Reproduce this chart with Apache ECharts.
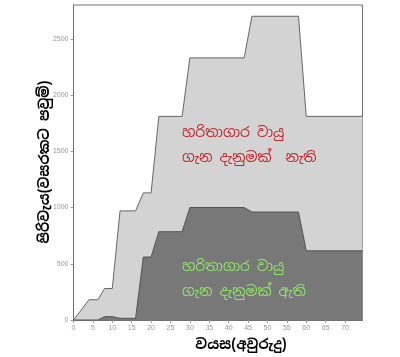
<!DOCTYPE html>
<html><head><meta charset="utf-8">
<script src="https://cdn.jsdelivr.net/npm/echarts@6/dist/echarts.min.js"></script>
<style>html,body{margin:0;padding:0;background:#fff}#c{width:400px;height:357px}</style>
</head><body><div id="c"></div>
<script>
const ages = [0,4,6.3,8,10,12,16,18,20,22,28,30,44,46,58,60,74.5];
const totalCost = [0,180,180,280,280,970,970,1130,1130,1810,1810,2330,2330,2700,2700,1810,1810];
const awareCost = [0,0,0,30,30,15,15,560,560,785,785,1000,1000,960,960,615,615];
const xTicks = [0,5,10,15,20,25,30,35,40,45,50,55,60,65,70];
const yTicks = [0,500,1000,1500,2000,2500];
const yTitle = 'පිරිවැය(වසරකට පවුම්)';
const xTitle = 'වයස(අවුරුදු)';
const notAwareLines = ['හරිතාගාර වායු','ගැන දැනුමක්  නැති'];
const awareLines = ['හරිතාගාර වායු','ගැන දැනුමක් ඇති'];

const FONT = "'Noto Sans Sinhala','Noto Serif Sinhala','Iskoola Pota',sans-serif";
const chart = echarts.init(document.getElementById('c'));
const pair = arr => ages.map((a,i)=>[a,arr[i]]);
const fmtX = v => xTicks.includes(v) ? String(v) : '';
const fmtY = v => yTicks.includes(v) ? String(v) : '';
chart.setOption({
  animation:false,
  grid:{left:73.5,right:37.5,top:5,bottom:37,show:true,borderColor:'#707070',borderWidth:1,backgroundColor:'transparent'},
  xAxis:{type:'value',min:0,max:74.5,interval:5,
    axisLine:{show:true,onZero:false,lineStyle:{color:'#707070'}},
    axisTick:{show:true,length:3,lineStyle:{color:'#999'}},
    axisLabel:{color:'#999',fontSize:7,margin:5,showMaxLabel:false,fontFamily:'Arial',formatter:fmtX},
    splitLine:{show:false}},
  yAxis:{type:'value',min:0,max:2800,interval:500,
    axisLine:{show:true,lineStyle:{color:'#707070'}},
    axisTick:{show:true,length:3,lineStyle:{color:'#999'}},
    axisLabel:{color:'#999',fontSize:7,margin:5,showMaxLabel:false,fontFamily:'Arial',formatter:fmtY},
    splitLine:{show:false}},
  series:[
    {type:'line',data:pair(totalCost),symbol:'none',lineStyle:{color:'#666',width:1},
     areaStyle:{color:'#d3d3d3',opacity:1},z:2},
    {type:'line',data:pair(awareCost),symbol:'none',lineStyle:{color:'#555',width:1},
     areaStyle:{color:'#787878',opacity:1},z:3}
  ],
  graphic:[
    {type:'text',x:45,y:162,rotation:Math.PI/2,z:10,
     style:{text:yTitle,font:'bold 14px '+FONT,fill:'#000',align:'center',verticalAlign:'middle'}},
    {type:'text',x:241,y:345,z:10,
     style:{text:xTitle,font:'bold 14px '+FONT,fill:'#000',align:'center',verticalAlign:'middle'}},
    {type:'text',x:182,y:133,z:10,
     style:{text:notAwareLines[0],font:'14px '+FONT,fill:'#c0262c',align:'left',verticalAlign:'middle'}},
    {type:'text',x:182,y:158,z:10,
     style:{text:notAwareLines[1],font:'14px '+FONT,fill:'#c0262c',align:'left',verticalAlign:'middle'}},
    {type:'text',x:182,y:267,z:10,
     style:{text:awareLines[0],font:'14px '+FONT,fill:'#8fe36a',align:'left',verticalAlign:'middle'}},
    {type:'text',x:182,y:292,z:10,
     style:{text:awareLines[1],font:'14px '+FONT,fill:'#8fe36a',align:'left',verticalAlign:'middle'}}
  ]
});
</script></body></html>
